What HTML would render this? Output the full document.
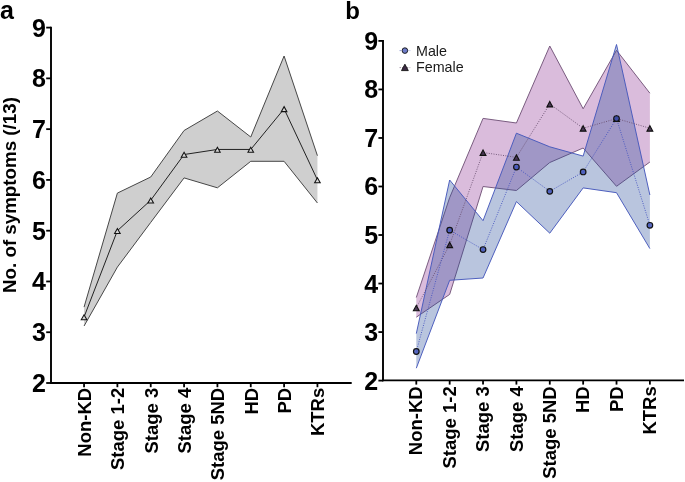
<!DOCTYPE html>
<html><head><meta charset="utf-8"><title>Symptoms chart</title>
<style>html,body{margin:0;padding:0;background:#fff;width:685px;height:482px;overflow:hidden;position:relative}
text{font-family:"Liberation Sans",sans-serif}</style></head>
<body>
<svg width="685" height="482" viewBox="0 0 685 482" style="position:absolute;left:0;top:0;will-change:transform">
<rect width="685" height="482" fill="#fff"/>
<text x="0" y="18.5" font-family="Liberation Sans, sans-serif" font-weight="bold" font-size="25">a</text>
<text x="345.2" y="18.5" font-family="Liberation Sans, sans-serif" font-weight="bold" font-size="24">b</text>
<polygon points="84.05,307.10 117.39,193.10 150.73,177.00 184.07,130.50 217.41,111.00 250.75,137.00 284.09,56.00 317.43,155.70 317.43,203.00 284.09,161.30 250.75,161.30 217.41,187.80 184.07,177.90 150.73,222.40 117.39,267.10 84.05,326.00" fill="#cfcfcf" stroke="none"/>
<polyline points="84.05,307.10 117.39,193.10 150.73,177.00 184.07,130.50 217.41,111.00 250.75,137.00 284.09,56.00 317.43,155.70" fill="none" stroke="#474747" stroke-width="1"/>
<polyline points="84.05,326.00 117.39,267.10 150.73,222.40 184.07,177.90 217.41,187.80 250.75,161.30 284.09,161.30 317.43,203.00" fill="none" stroke="#474747" stroke-width="1"/>
<polyline points="84.05,317.00 117.39,230.69 150.73,200.22 184.07,154.53 217.41,149.45 250.75,149.45 284.09,108.83 317.43,179.91" fill="none" stroke="#222" stroke-width="1"/>
<polygon points="84.05,314.80 86.85,319.80 81.25,319.80" fill="#d8d8d8" stroke="#111" stroke-width="1.05" stroke-linejoin="miter"/>
<polygon points="117.39,228.49 120.19,233.49 114.59,233.49" fill="#d8d8d8" stroke="#111" stroke-width="1.05" stroke-linejoin="miter"/>
<polygon points="150.73,198.02 153.53,203.02 147.93,203.02" fill="#d8d8d8" stroke="#111" stroke-width="1.05" stroke-linejoin="miter"/>
<polygon points="184.07,152.33 186.87,157.33 181.27,157.33" fill="#d8d8d8" stroke="#111" stroke-width="1.05" stroke-linejoin="miter"/>
<polygon points="217.41,147.25 220.21,152.25 214.61,152.25" fill="#d8d8d8" stroke="#111" stroke-width="1.05" stroke-linejoin="miter"/>
<polygon points="250.75,147.25 253.55,152.25 247.95,152.25" fill="#d8d8d8" stroke="#111" stroke-width="1.05" stroke-linejoin="miter"/>
<polygon points="284.09,106.63 286.89,111.63 281.29,111.63" fill="#d8d8d8" stroke="#111" stroke-width="1.05" stroke-linejoin="miter"/>
<polygon points="317.43,177.71 320.23,182.71 314.63,182.71" fill="#d8d8d8" stroke="#111" stroke-width="1.05" stroke-linejoin="miter"/>
<line x1="51.0" y1="26.700000000000003" x2="51.0" y2="383.9" stroke="#000" stroke-width="1.9"/>
<line x1="50.1" y1="383.0" x2="351.7" y2="383.0" stroke="#000" stroke-width="1.8"/>
<line x1="46.2" y1="383.00" x2="51.0" y2="383.00" stroke="#000" stroke-width="1.8"/>
<text x="45.8" y="392.00" font-family="Liberation Sans, sans-serif" font-weight="bold" font-size="25" text-anchor="end">2</text>
<line x1="46.2" y1="332.23" x2="51.0" y2="332.23" stroke="#000" stroke-width="1.8"/>
<text x="45.8" y="341.23" font-family="Liberation Sans, sans-serif" font-weight="bold" font-size="25" text-anchor="end">3</text>
<line x1="46.2" y1="281.46" x2="51.0" y2="281.46" stroke="#000" stroke-width="1.8"/>
<text x="45.8" y="290.46" font-family="Liberation Sans, sans-serif" font-weight="bold" font-size="25" text-anchor="end">4</text>
<line x1="46.2" y1="230.69" x2="51.0" y2="230.69" stroke="#000" stroke-width="1.8"/>
<text x="45.8" y="239.69" font-family="Liberation Sans, sans-serif" font-weight="bold" font-size="25" text-anchor="end">5</text>
<line x1="46.2" y1="179.91" x2="51.0" y2="179.91" stroke="#000" stroke-width="1.8"/>
<text x="45.8" y="188.91" font-family="Liberation Sans, sans-serif" font-weight="bold" font-size="25" text-anchor="end">6</text>
<line x1="46.2" y1="129.14" x2="51.0" y2="129.14" stroke="#000" stroke-width="1.8"/>
<text x="45.8" y="138.14" font-family="Liberation Sans, sans-serif" font-weight="bold" font-size="25" text-anchor="end">7</text>
<line x1="46.2" y1="78.37" x2="51.0" y2="78.37" stroke="#000" stroke-width="1.8"/>
<text x="45.8" y="87.37" font-family="Liberation Sans, sans-serif" font-weight="bold" font-size="25" text-anchor="end">8</text>
<line x1="46.2" y1="27.60" x2="51.0" y2="27.60" stroke="#000" stroke-width="1.8"/>
<text x="45.8" y="36.60" font-family="Liberation Sans, sans-serif" font-weight="bold" font-size="25" text-anchor="end">9</text>
<line x1="84.05" y1="383.0" x2="84.05" y2="387.2" stroke="#000" stroke-width="1.8"/>
<text transform="translate(90.95,387.8) rotate(-90)" font-family="Liberation Sans, sans-serif" font-weight="bold" font-size="18.5" text-anchor="end">Non-KD</text>
<line x1="117.39" y1="383.0" x2="117.39" y2="387.2" stroke="#000" stroke-width="1.8"/>
<text transform="translate(124.29,387.8) rotate(-90)" font-family="Liberation Sans, sans-serif" font-weight="bold" font-size="18.5" text-anchor="end">Stage 1-2</text>
<line x1="150.73" y1="383.0" x2="150.73" y2="387.2" stroke="#000" stroke-width="1.8"/>
<text transform="translate(157.63,387.8) rotate(-90)" font-family="Liberation Sans, sans-serif" font-weight="bold" font-size="18.5" text-anchor="end">Stage 3</text>
<line x1="184.07" y1="383.0" x2="184.07" y2="387.2" stroke="#000" stroke-width="1.8"/>
<text transform="translate(190.97,387.8) rotate(-90)" font-family="Liberation Sans, sans-serif" font-weight="bold" font-size="18.5" text-anchor="end">Stage 4</text>
<line x1="217.41" y1="383.0" x2="217.41" y2="387.2" stroke="#000" stroke-width="1.8"/>
<text transform="translate(224.31,387.8) rotate(-90)" font-family="Liberation Sans, sans-serif" font-weight="bold" font-size="18.5" text-anchor="end">Stage 5ND</text>
<line x1="250.75" y1="383.0" x2="250.75" y2="387.2" stroke="#000" stroke-width="1.8"/>
<text transform="translate(257.65,387.8) rotate(-90)" font-family="Liberation Sans, sans-serif" font-weight="bold" font-size="18.5" text-anchor="end">HD</text>
<line x1="284.09" y1="383.0" x2="284.09" y2="387.2" stroke="#000" stroke-width="1.8"/>
<text transform="translate(290.99,387.8) rotate(-90)" font-family="Liberation Sans, sans-serif" font-weight="bold" font-size="18.5" text-anchor="end">PD</text>
<line x1="317.43" y1="383.0" x2="317.43" y2="387.2" stroke="#000" stroke-width="1.8"/>
<text transform="translate(324.33,387.8) rotate(-90)" font-family="Liberation Sans, sans-serif" font-weight="bold" font-size="18.5" text-anchor="end">KTRs</text>
<text transform="translate(16.3,195.05) rotate(-90)" font-family="Liberation Sans, sans-serif" font-weight="bold" font-size="18.75" text-anchor="middle">No. of symptoms (/13)</text>
<polygon points="416.30,297.50 449.67,197.60 483.04,118.40 516.41,123.00 549.78,46.00 583.15,108.80 616.52,50.30 649.89,93.20 649.89,162.00 616.52,186.30 583.15,148.00 549.78,162.50 516.41,190.50 483.04,186.50 449.67,294.40 416.30,317.20" fill="#dabcdc"/>
<polyline points="416.30,297.50 449.67,197.60 483.04,118.40 516.41,123.00 549.78,46.00 583.15,108.80 616.52,50.30 649.89,93.20" fill="none" stroke="#7a5c80" stroke-width="1"/>
<polyline points="416.30,317.20 449.67,294.40 483.04,186.50 516.41,190.50 549.78,162.50 583.15,148.00 616.52,186.30 649.89,162.00" fill="none" stroke="#7a5c80" stroke-width="1"/>
<polygon points="416.30,333.60 449.67,180.00 483.04,220.70 516.41,133.20 549.78,146.80 583.15,156.10 616.52,44.50 649.89,195.00 649.89,248.60 616.52,192.70 583.15,187.90 549.78,233.20 516.41,201.60 483.04,278.00 449.67,280.30 416.30,368.20" fill="rgb(36,74,152)" fill-opacity="0.32"/>
<polyline points="416.30,333.60 449.67,180.00 483.04,220.70 516.41,133.20 549.78,146.80 583.15,156.10 616.52,44.50 649.89,195.00" fill="none" stroke="#4759bc" stroke-width="0.95"/>
<polyline points="416.30,368.20 449.67,280.30 483.04,278.00 516.41,201.60 549.78,233.20 583.15,187.90 616.52,192.70 649.89,248.60" fill="none" stroke="#4759bc" stroke-width="0.95"/>
<polyline points="416.30,307.81 449.67,244.72 483.04,152.52 516.41,157.37 549.78,103.99 583.15,128.25 616.52,118.55 649.89,128.25" fill="none" stroke="#6a5070" stroke-width="0.9" stroke-dasharray="1 1.4"/>
<polyline points="416.30,351.48 449.67,230.16 483.04,249.57 516.41,167.07 549.78,191.34 583.15,171.93 616.52,118.55 649.89,225.31" fill="none" stroke="#4454c0" stroke-width="0.9" stroke-dasharray="1 1.4"/>
<polygon points="416.30,305.31 419.20,310.71 413.40,310.71" fill="#3c2a48" fill-opacity="0.9" stroke="#111" stroke-width="1.1"/>
<polygon points="449.67,242.22 452.57,247.62 446.77,247.62" fill="#3c2a48" fill-opacity="0.9" stroke="#111" stroke-width="1.1"/>
<polygon points="483.04,150.02 485.94,155.42 480.14,155.42" fill="#3c2a48" fill-opacity="0.9" stroke="#111" stroke-width="1.1"/>
<polygon points="516.41,154.87 519.31,160.27 513.51,160.27" fill="#3c2a48" fill-opacity="0.9" stroke="#111" stroke-width="1.1"/>
<polygon points="549.78,101.49 552.68,106.89 546.88,106.89" fill="#3c2a48" fill-opacity="0.9" stroke="#111" stroke-width="1.1"/>
<polygon points="583.15,125.75 586.05,131.15 580.25,131.15" fill="#3c2a48" fill-opacity="0.9" stroke="#111" stroke-width="1.1"/>
<polygon points="616.52,116.05 619.42,121.45 613.62,121.45" fill="#3c2a48" fill-opacity="0.9" stroke="#111" stroke-width="1.1"/>
<polygon points="649.89,125.75 652.79,131.15 646.99,131.15" fill="#3c2a48" fill-opacity="0.9" stroke="#111" stroke-width="1.1"/>
<circle cx="416.30" cy="351.48" r="2.8" fill="rgb(64,82,185)" fill-opacity="0.85" stroke="#111" stroke-width="1.2"/>
<circle cx="449.67" cy="230.16" r="2.8" fill="rgb(64,82,185)" fill-opacity="0.85" stroke="#111" stroke-width="1.2"/>
<circle cx="483.04" cy="249.57" r="2.8" fill="rgb(64,82,185)" fill-opacity="0.85" stroke="#111" stroke-width="1.2"/>
<circle cx="516.41" cy="167.07" r="2.8" fill="rgb(64,82,185)" fill-opacity="0.85" stroke="#111" stroke-width="1.2"/>
<circle cx="549.78" cy="191.34" r="2.8" fill="rgb(64,82,185)" fill-opacity="0.85" stroke="#111" stroke-width="1.2"/>
<circle cx="583.15" cy="171.93" r="2.8" fill="rgb(64,82,185)" fill-opacity="0.85" stroke="#111" stroke-width="1.2"/>
<circle cx="616.52" cy="118.55" r="2.8" fill="rgb(64,82,185)" fill-opacity="0.85" stroke="#111" stroke-width="1.2"/>
<circle cx="649.89" cy="225.31" r="2.8" fill="rgb(64,82,185)" fill-opacity="0.85" stroke="#111" stroke-width="1.2"/>
<line x1="383.0" y1="40.0" x2="383.0" y2="381.25" stroke="#000" stroke-width="1.9"/>
<line x1="382.1" y1="380.35" x2="684" y2="380.35" stroke="#000" stroke-width="1.8"/>
<line x1="378.4" y1="380.60" x2="383.0" y2="380.60" stroke="#000" stroke-width="1.8"/>
<text x="378.2" y="389.60" font-family="Liberation Sans, sans-serif" font-weight="bold" font-size="25" text-anchor="end">2</text>
<line x1="378.4" y1="332.07" x2="383.0" y2="332.07" stroke="#000" stroke-width="1.8"/>
<text x="378.2" y="341.07" font-family="Liberation Sans, sans-serif" font-weight="bold" font-size="25" text-anchor="end">3</text>
<line x1="378.4" y1="283.54" x2="383.0" y2="283.54" stroke="#000" stroke-width="1.8"/>
<text x="378.2" y="292.54" font-family="Liberation Sans, sans-serif" font-weight="bold" font-size="25" text-anchor="end">4</text>
<line x1="378.4" y1="235.01" x2="383.0" y2="235.01" stroke="#000" stroke-width="1.8"/>
<text x="378.2" y="244.01" font-family="Liberation Sans, sans-serif" font-weight="bold" font-size="25" text-anchor="end">5</text>
<line x1="378.4" y1="186.49" x2="383.0" y2="186.49" stroke="#000" stroke-width="1.8"/>
<text x="378.2" y="195.49" font-family="Liberation Sans, sans-serif" font-weight="bold" font-size="25" text-anchor="end">6</text>
<line x1="378.4" y1="137.96" x2="383.0" y2="137.96" stroke="#000" stroke-width="1.8"/>
<text x="378.2" y="146.96" font-family="Liberation Sans, sans-serif" font-weight="bold" font-size="25" text-anchor="end">7</text>
<line x1="378.4" y1="89.43" x2="383.0" y2="89.43" stroke="#000" stroke-width="1.8"/>
<text x="378.2" y="98.43" font-family="Liberation Sans, sans-serif" font-weight="bold" font-size="25" text-anchor="end">8</text>
<line x1="378.4" y1="40.90" x2="383.0" y2="40.90" stroke="#000" stroke-width="1.8"/>
<text x="378.2" y="49.90" font-family="Liberation Sans, sans-serif" font-weight="bold" font-size="25" text-anchor="end">9</text>
<line x1="416.30" y1="380.35" x2="416.30" y2="384.6" stroke="#000" stroke-width="1.8"/>
<text transform="translate(422.40,386.3) rotate(-90)" font-family="Liberation Sans, sans-serif" font-weight="bold" font-size="18.5" text-anchor="end">Non-KD</text>
<line x1="449.67" y1="380.35" x2="449.67" y2="384.6" stroke="#000" stroke-width="1.8"/>
<text transform="translate(455.77,386.3) rotate(-90)" font-family="Liberation Sans, sans-serif" font-weight="bold" font-size="18.5" text-anchor="end">Stage 1-2</text>
<line x1="483.04" y1="380.35" x2="483.04" y2="384.6" stroke="#000" stroke-width="1.8"/>
<text transform="translate(489.14,386.3) rotate(-90)" font-family="Liberation Sans, sans-serif" font-weight="bold" font-size="18.5" text-anchor="end">Stage 3</text>
<line x1="516.41" y1="380.35" x2="516.41" y2="384.6" stroke="#000" stroke-width="1.8"/>
<text transform="translate(522.51,386.3) rotate(-90)" font-family="Liberation Sans, sans-serif" font-weight="bold" font-size="18.5" text-anchor="end">Stage 4</text>
<line x1="549.78" y1="380.35" x2="549.78" y2="384.6" stroke="#000" stroke-width="1.8"/>
<text transform="translate(555.88,386.3) rotate(-90)" font-family="Liberation Sans, sans-serif" font-weight="bold" font-size="18.5" text-anchor="end">Stage 5ND</text>
<line x1="583.15" y1="380.35" x2="583.15" y2="384.6" stroke="#000" stroke-width="1.8"/>
<text transform="translate(589.25,386.3) rotate(-90)" font-family="Liberation Sans, sans-serif" font-weight="bold" font-size="18.5" text-anchor="end">HD</text>
<line x1="616.52" y1="380.35" x2="616.52" y2="384.6" stroke="#000" stroke-width="1.8"/>
<text transform="translate(622.62,386.3) rotate(-90)" font-family="Liberation Sans, sans-serif" font-weight="bold" font-size="18.5" text-anchor="end">PD</text>
<line x1="649.89" y1="380.35" x2="649.89" y2="384.6" stroke="#000" stroke-width="1.8"/>
<text transform="translate(655.99,386.3) rotate(-90)" font-family="Liberation Sans, sans-serif" font-weight="bold" font-size="18.5" text-anchor="end">KTRs</text>
<line x1="399.7" y1="50.6" x2="410.2" y2="50.6" stroke="#4050b8" stroke-width="0.8" stroke-dasharray="1 1.5"/>
<circle cx="404.9" cy="50.6" r="2.8" fill="#6e7cc8" stroke="#111" stroke-width="0.9"/>
<line x1="399.7" y1="67.6" x2="410.2" y2="67.6" stroke="#5a3c60" stroke-width="0.8" stroke-dasharray="1 1.5"/>
<polygon points="404.90,64.20 408.30,70.60 401.50,70.60" fill="#3c2a44" stroke="#111" stroke-width="0.9"/>
<text x="416" y="55.5" font-family="Liberation Sans, sans-serif" font-size="14.3" fill="#1a1a1a">Male</text>
<text x="416" y="72.1" font-family="Liberation Sans, sans-serif" font-size="14.3" fill="#1a1a1a">Female</text>
</svg>
</body></html>
